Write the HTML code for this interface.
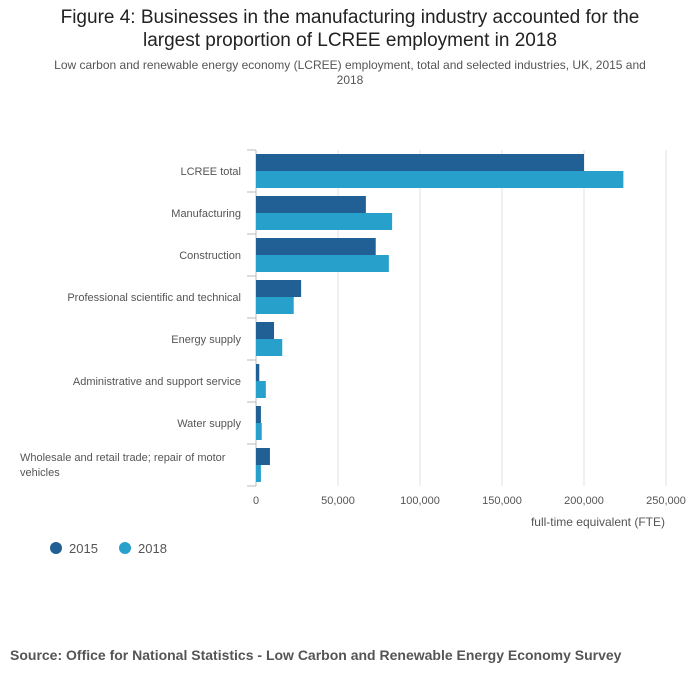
<!DOCTYPE html>
<html><head><meta charset="utf-8"><style>
body{margin:0;background:#fff;font-family:"Liberation Sans","DejaVu Sans",sans-serif;}
#wrap{position:relative;width:700px;height:682px;overflow:hidden;}
.t{position:absolute;left:0;width:700px;text-align:center;color:#222;}
</style></head><body>
<div id="wrap">
<div class="t" style="top:6px;font-size:19px;line-height:23px;">Figure 4: Businesses in the manufacturing industry accounted for the<br>largest proportion of LCREE employment in 2018</div>
<div class="t" style="top:58px;font-size:12px;line-height:15px;color:#555;">Low carbon and renewable energy economy (LCREE) employment, total and selected industries, UK, 2015 and<br>2018</div>
<svg id="chart" width="700" height="682" style="position:absolute;left:0;top:0"></svg>
<div style="position:absolute;left:10px;top:647px;font-size:14px;font-weight:bold;color:#555;">Source: Office for National Statistics - Low Carbon and Renewable Energy Economy Survey</div>
</div>
<script>
const categories=["LCREE total","Manufacturing","Construction","Professional scientific and technical","Energy supply","Administrative and support service","Water supply","Wholesale and retail trade; repair of motor vehicles"];
const values2015=[200000,67000,73000,27500,11000,2000,3000,8500];
const values2018=[224000,83000,81000,23000,16000,6000,3500,3000];
const ticks=[0,50000,100000,150000,200000,250000];
const tickLabels=["0","50,000","100,000","150,000","200,000","250,000"];
const series=["2015","2018"];
const colors=["#206095","#27a0cc"];
const svg=document.getElementById('chart');const NS="http://www.w3.org/2000/svg";
function mk(t,a,txt){const e=document.createElementNS(NS,t);for(const k in a)e.setAttribute(k,a[k]);if(txt!=null)e.textContent=txt;svg.appendChild(e);return e;}
const x0=256,x1=666,topY=150,rowH=42;
const xs=v=>x0+(v/250000)*(x1-x0);
const yRow=i=>topY+i*rowH;
ticks.forEach((t,i)=>{
 const g=mk('line',{x1:xs(t),x2:xs(t),y1:topY,y2:topY+rowH*categories.length,stroke:i==0?'#bbb':'#e0e0e0','stroke-width':1});
 
 
 const l=mk('text',{x:xs(t),y:504,'text-anchor':'middle','font-size':11,fill:'#555'},tickLabels[i]);
 
 
});
for(let i=0;i<=categories.length;i++){
 const tk=mk('line',{x1:247,x2:256,y1:yRow(i),y2:yRow(i),stroke:'#bbb'});
 
 
}
categories.forEach((c,i)=>{
 const y=yRow(i);
 [values2015,values2018].forEach((arr,s)=>{
  const r=mk('rect',{x:x0,y:y+4+s*17,width:xs(arr[i])-x0,height:17,fill:colors[s]});
  
  
 });
 if(c.length>50){
  const t=mk('text',{x:20,y:y+17,'font-size':11,fill:'#555'});
  
  
  const a=document.createElementNS(NS,'tspan');a.setAttribute('x',20);a.textContent="Wholesale and retail trade; repair of motor";t.appendChild(a);
  const b=document.createElementNS(NS,'tspan');b.setAttribute('x',20);b.setAttribute('dy',15);b.textContent="vehicles";t.appendChild(b);
 } else {
  const t=mk('text',{x:241,y:y+25,'text-anchor':'end','font-size':11,fill:'#555'},c);
  
  
 }
});
const at=mk('text',{x:665,y:526,'text-anchor':'end','font-size':12,fill:'#555'},'full-time equivalent (FTE)');


series.forEach((s,i)=>{
 const cx=56+i*69;
 const c=mk('circle',{cx:cx,cy:548,r:6,fill:colors[i]});
 
 
 const t=mk('text',{x:cx+13,y:553,'font-size':13,fill:'#555'},s);
 
 
});
</script>
</body></html>
